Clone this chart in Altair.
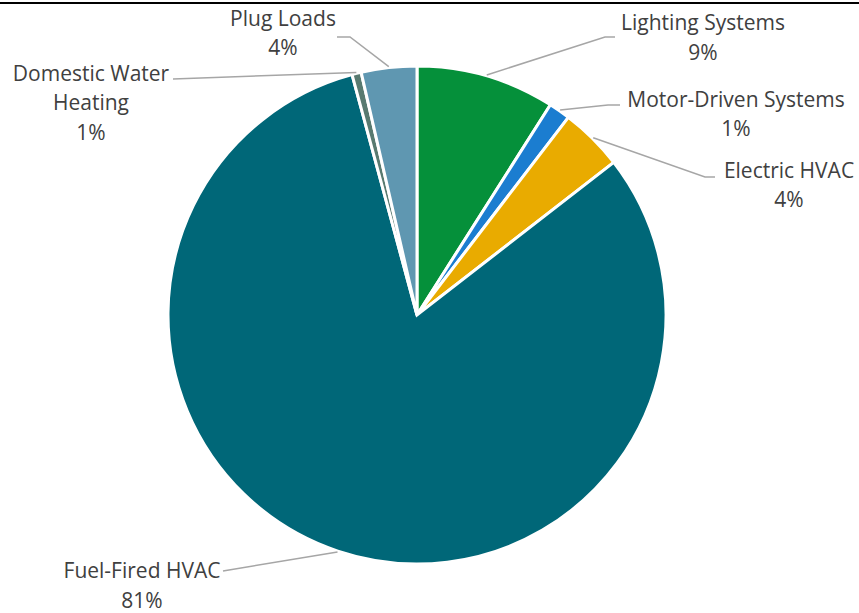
import math
import altair as alt
import pandas as pd

# End-use shares of site energy (%), clockwise from 12 o'clock
categories = [
    "Lighting Systems",
    "Motor-Driven Systems",
    "Electric HVAC",
    "Fuel-Fired HVAC",
    "Domestic Water Heating",
    "Plug Loads",
]
shares = [9.0, 1.4, 4.1, 81.3, 0.6, 3.6]
colors = ["#05903A", "#1B7DD0", "#E9AB00", "#006778", "#587A70", "#5F97B1"]

# label text lines (name split where it wraps)
label_names = [
    "Lighting Systems",
    "Motor-Driven Systems",
    "Electric HVAC",
    "Fuel-Fired HVAC",
    "Domestic Water\nHeating",
    "Plug Loads",
]

# layout (pixels)
CX, CY, R = 417, 315, 249
W, H = 834, 596
PAD = {"left": 0, "top": 17, "right": 25, "bottom": 0}
label_pos = [(703, 30), (736, 106.5), (789, 177.5), (142, 578), (91, 80.5), (283, 25.5)]
elbows = [(605, 37), (608, 105), (705, 177), (223, 571), (173, 79), (350, 37)]
line_ends = [(615, 37), (620, 105), (715, 177), (223, 571), (173, 79), (337, 37)]

pie_df = pd.DataFrame({"category": categories, "share": shares, "order": range(len(shares))})

# leader lines start on the rim at each slice's mid-angle
total = sum(shares)
rows = []
cum = 0.0
for i, (cat, v) in enumerate(zip(categories, shares)):
    mid = (cum + v / 2) / total * 2 * math.pi
    cum += v
    sx = CX + (R + 1) * math.sin(mid)
    sy = CY - (R + 1) * math.cos(mid)
    pts = [(sx, sy), elbows[i], line_ends[i]]
    for k, (px, py) in enumerate(pts):
        rows.append({"category": cat, "k": k, "px": px, "py": py - PAD["top"]})
lines_df = pd.DataFrame(rows)

text_df = pd.DataFrame({
    "category": categories,
    "label": [f"{n}\n{round(v)}%" for n, v in zip(label_names, shares)],
    "px": [p[0] for p in label_pos],
    "py": [p[1] - PAD["top"] for p in label_pos],
})

pie = alt.Chart(pie_df).mark_arc(
    outerRadius=R, stroke="white", strokeWidth=3, x=CX, y=CY - PAD["top"]
).encode(
    theta=alt.Theta("share:Q", stack=True),
    order=alt.Order("order:Q"),
    color=alt.Color("category:N", scale=alt.Scale(domain=categories, range=colors), legend=None),
)

leaders = alt.Chart(lines_df).mark_line(color="#A6A6A6", strokeWidth=1.5).encode(
    x=alt.X("px:Q", scale=None),
    y=alt.Y("py:Q", scale=None),
    detail="category:N",
    order="k:Q",
)

labels = alt.Chart(text_df).mark_text(
    font="Open Sans", fontSize=21, color="#404040", align="center",
    baseline="alphabetic", lineBreak="\n", lineHeight=29.5,
).encode(
    x=alt.X("px:Q", scale=None),
    y=alt.Y("py:Q", scale=None),
    text="label:N",
)

top_rule = alt.Chart(pie_df).mark_rule(color="#000000", strokeWidth=1.5).encode(
    x=alt.value(0), x2=alt.value(W + PAD["right"]), y=alt.value(3 - PAD["top"])
)

chart = alt.layer(pie, leaders, labels, top_rule).properties(
    width=W, height=H, padding=PAD, background="white",
    autosize=alt.AutoSizeParams(type="none"),
).configure_view(strokeWidth=0, stroke="transparent")

chart.save("out.html", embed_options={"renderer": "svg", "actions": False})
